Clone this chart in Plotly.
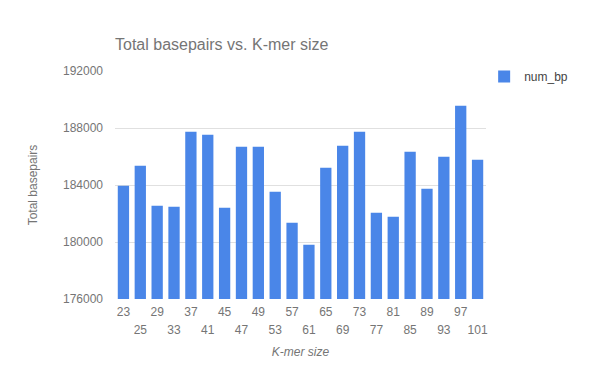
import plotly.graph_objects as go

kmer_sizes = ["23", "25", "29", "33", "37", "41", "45", "47", "49", "53", "57",
              "61", "65", "69", "73", "77", "81", "85", "89", "93", "97", "101"]
num_bp = [183950, 185350, 182550, 182480, 187740, 187530, 182400, 186690, 186690,
          183530, 181350, 179810, 185210, 186760, 187740, 182060, 181780, 186340,
          183740, 185990, 189570, 185780]
y_ticks = [176000, 180000, 184000, 188000, 192000]

grey = "#757575"
font_family = "Liberation Sans, Arial, sans-serif"

idx = list(range(len(kmer_sizes)))
top_idx = idx[0::2]
bot_idx = idx[1::2]

fig = go.Figure()
fig.add_trace(go.Bar(x=kmer_sizes, y=num_bp, name="num_bp",
                     marker=dict(color="#4a86e8", line=dict(width=0))))
# invisible trace to activate the second x axis (bottom row of staggered labels)
fig.add_trace(go.Scatter(x=[bot_idx[0]], y=[num_bp[0]], xaxis="x2", mode="markers",
                         marker=dict(opacity=0), showlegend=False, hoverinfo="skip"))

fig.update_layout(
    width=600, height=371,
    margin=dict(l=115, r=114, t=71, b=72, autoexpand=False),
    paper_bgcolor="white", plot_bgcolor="white",
    font=dict(family=font_family, size=12, color=grey),
    bargap=0.33,
    title=dict(text="Total basepairs vs. K-mer size", x=115/600, xanchor="left",
               xref="container", y=1 - 44/371, yanchor="middle",
               font=dict(size=16, color=grey), automargin=False),
    legend=dict(x=0.995, xanchor="left", y=1.04, yanchor="top",
                font=dict(size=12, color="#444444"), bgcolor="rgba(0,0,0,0)"),
    xaxis=dict(type="category", categoryorder="array", categoryarray=kmer_sizes,
               range=[-0.5, len(kmer_sizes) - 0.5], automargin=False,
               tickmode="array", tickvals=[kmer_sizes[i] for i in top_idx],
               ticktext=[kmer_sizes[i] for i in top_idx],
               showgrid=False, showline=False, ticks="", zeroline=False,
               ticklabelstandoff=4,
               tickfont=dict(size=12, color=grey)),
    xaxis2=dict(overlaying="x", anchor="y", side="bottom", automargin=False,
                range=[-0.5, len(kmer_sizes) - 0.5],
                tickmode="array", tickvals=bot_idx,
                ticktext=[kmer_sizes[i] for i in bot_idx],
                showgrid=False, showline=False, ticks="", zeroline=False,
                ticklabelstandoff=22,
                title=dict(text="<i>K-mer size</i>", standoff=11,
                           font=dict(size=12, color=grey)),
                tickfont=dict(size=12, color=grey)),
    yaxis=dict(range=[176000, 192000], tickmode="array", tickvals=y_ticks,
               ticktext=[str(v) for v in y_ticks], automargin=False,
               showgrid=True, gridcolor="#e0e0e0", gridwidth=1,
               zeroline=False, showline=False, ticks="",
               ticklabelstandoff=11,
               title=dict(text="Total basepairs", standoff=22,
                          font=dict(size=12, color=grey)),
               tickfont=dict(size=12, color=grey)),
)

fig.write_html("out.html", config={"displayModeBar": False},
               post_script="document.body.style.margin='0';")
